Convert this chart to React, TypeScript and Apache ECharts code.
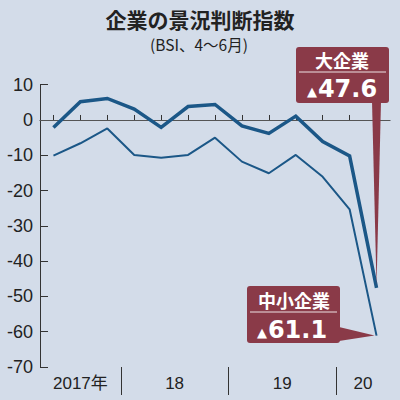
import React, { useEffect, useRef } from "react";
import * as echarts from "echarts";

const quarters = [
  "2017/4-6", "2017/7-9", "2017/10-12",
  "2018/1-3", "2018/4-6", "2018/7-9", "2018/10-12",
  "2019/1-3", "2019/4-6", "2019/7-9", "2019/10-12",
  "2020/1-3", "2020/4-6",
];
const largeValues = [-2.1, 5.2, 6.1, 3.1, -2.1, 3.8, 4.4, -1.7, -3.8, 1.1, -6.1, -10.2, -47.6];
const smallValues = [-10.1, -6.6, -2.4, -9.9, -10.7, -9.9, -5.0, -11.8, -15.1, -9.9, -16.1, -25.3, -61.1];

// year axis: half-quarter slots (27 points), labels and separators placed on them
const yearLabels = ["2017年", "18", "19", "20"];
const yearLabelSlots = [3, 10, 18, 24];
const yearBoundarySlots = [6, 14, 22];
const yTicks = { min: -70, max: 10, interval: 10 };

const titleText = "企業の景況判断指数";
const subtitleText = "(BSI、4～6月)";
const largeName = "大企業";
const smallName = "中小企業";
const largeCallout = "47.6";
const smallCallout = "61.1";

const NARROW = "'Liberation Sans Narrow', 'Arial Narrow', 'Liberation Sans', 'Noto Sans CJK JP', sans-serif";
const CJK = "'Noto Sans CJK JP', sans-serif";
const NUM = "'DejaVu Sans', sans-serif";
const MAROON = "#8a3a48";
const LINE = "#1b5787";

export default function App() {
  const ref = useRef<HTMLDivElement>(null);
  useEffect(() => {
    if (!ref.current) return;
    const chart = echarts.init(ref.current, undefined, { renderer: "svg" });
    const slots = Array.from({ length: 27 }, (_, i) => {
      const k = yearLabelSlots.indexOf(i);
      return k >= 0 ? yearLabels[k] : "s" + i;
    });
    chart.setOption({
      animation: false,
      backgroundColor: "#d3dce9",
      grid: { left: 40, right: 10, top: 84.7, bottom: 33 },
      xAxis: [
        {
          type: "category",
          data: quarters,
          boundaryGap: true,
          position: "bottom",
          offset: 0,
          axisLine: { show: true, lineStyle: { color: "#333", width: 1 } },
          axisTick: { show: true, alignWithLabel: true, interval: 0, inside: true, length: 5, lineStyle: { color: "#333" } },
          axisLabel: { show: false },
          splitLine: { show: false },
        },
        {
          type: "category",
          data: slots,
          boundaryGap: false,
          position: "bottom",
          offset: 0,
          axisLine: { show: false },
          axisTick: {
            show: true,
            inside: false,
            length: 28,
            interval: (i: number) => yearBoundarySlots.indexOf(i) >= 0,
            lineStyle: { color: "#333", width: 1 },
          },
          axisLabel: {
            show: true,
            interval: 0,
            margin: 8,
            color: "#222",
            fontSize: 17,
            fontFamily: NARROW,
            formatter: (v: string) => (yearLabels.indexOf(v) >= 0 ? v : ""),
          },
          splitLine: { show: false },
        },
      ],
      yAxis: {
        type: "value",
        min: yTicks.min,
        max: yTicks.max,
        interval: yTicks.interval,
        axisLine: { show: true, lineStyle: { color: "#333", width: 1 } },
        axisTick: { show: true, inside: true, length: 8, lineStyle: { color: "#333" } },
        axisLabel: { color: "#222", fontSize: 18, fontFamily: NARROW, margin: 7 },
        splitLine: { show: false },
      },
      series: [
        {
          name: largeName,
          type: "line",
          xAxisIndex: 0,
          data: largeValues,
          symbol: "none",
          lineStyle: { color: LINE, width: 3.5, join: "miter" },
          z: 3,
          markLine: {
            silent: true,
            symbol: ["none", "none"],
            label: { show: false },
            lineStyle: { color: "#555", width: 1, type: "solid" },
            data: [{ yAxis: 0 }],
            z: 1,
          },
        },
        {
          name: smallName,
          type: "line",
          xAxisIndex: 0,
          data: smallValues,
          symbol: "none",
          lineStyle: { color: LINE, width: 2 },
          z: 3,
        },
      ],
    });

    const last = quarters.length - 1;
    const tipL = chart.convertToPixel({ seriesIndex: 0 }, [last, largeValues[last]]) as number[];
    const tipS = chart.convertToPixel({ seriesIndex: 1 }, [last, smallValues[last]]) as number[];

    const numRich = {
      t: { fontSize: 13, fontWeight: "bold", fill: "#fff", color: "#fff", fontFamily: NUM, padding: [5, 1, 0, 0] },
      n: { fontSize: 24, fontWeight: "bold", fill: "#fff", color: "#fff", fontFamily: NUM },
    };

    chart.setOption({
      graphic: [
        {
          type: "text", x: 200, y: 19, z: 11,
          style: { text: titleText, fill: "#222", fontSize: 21, fontWeight: "bold", fontFamily: CJK, align: "center", verticalAlign: "middle" },
        },
        {
          type: "text", x: 199, y: 44, z: 11,
          style: { text: subtitleText, fill: "#222", fontSize: 15.5, fontFamily: CJK, align: "center", verticalAlign: "middle" },
        },
        // large company callout
        { type: "polygon", shape: { points: [[372, 101], [381, 101], [tipL[0], tipL[1] - 2]] }, style: { fill: MAROON }, z: 10 },
        { type: "rect", shape: { x: 296, y: 47, width: 93, height: 56, r: 3 }, style: { fill: MAROON }, z: 10 },
        { type: "line", shape: { x1: 299, y1: 72, x2: 386, y2: 72 }, style: { stroke: "rgba(255,255,255,0.85)", lineWidth: 1 }, z: 11 },
        {
          type: "text", x: 342, y: 60, z: 11,
          style: { text: largeName, fill: "#fff", fontSize: 18, fontWeight: "bold", fontFamily: CJK, align: "center", verticalAlign: "middle" },
        },
        {
          type: "text", x: 342, y: 89, z: 11,
          style: { text: "{t|▲}{n|" + largeCallout + "}", rich: numRich, align: "center", verticalAlign: "middle" },
        },
        // small company callout
        { type: "polygon", shape: { points: [[339, 327], [339, 341], [tipS[0] - 2, tipS[1]]] }, style: { fill: MAROON }, z: 10 },
        { type: "rect", shape: { x: 247, y: 286, width: 93, height: 57, r: 3 }, style: { fill: MAROON }, z: 10 },
        { type: "line", shape: { x1: 250, y1: 312, x2: 337, y2: 312 }, style: { stroke: "rgba(255,255,255,0.85)", lineWidth: 1 }, z: 11 },
        {
          type: "text", x: 294, y: 300, z: 11,
          style: { text: smallName, fill: "#fff", fontSize: 18, fontWeight: "bold", fontFamily: CJK, align: "center", verticalAlign: "middle" },
        },
        {
          type: "text", x: 292, y: 330, z: 11,
          style: { text: "{t|▲}{n|" + smallCallout + "}", rich: numRich, align: "center", verticalAlign: "middle" },
        },
      ],
    });

    return () => chart.dispose();
  }, []);
  return <div ref={ref} style={{ position: "fixed", left: 0, top: 0, width: 400, height: 400 }} />;
}
